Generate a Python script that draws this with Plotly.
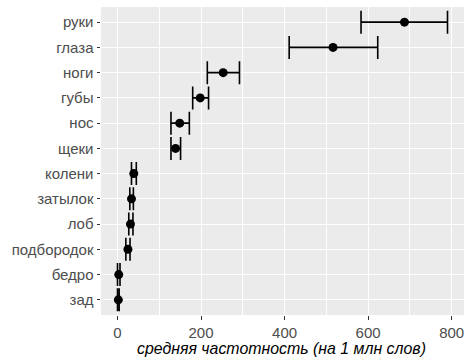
import plotly.graph_objects as go

categories = ["руки", "глаза", "ноги", "губы", "нос", "щеки", "колени",
              "затылок", "лоб", "подбородок", "бедро", "зад"]
mean_freq = [687, 516, 253, 198, 149, 139, 39, 33.5, 31, 25, 3, 2]
ci_low = [583, 411, 215, 180, 128, 128, 33.5, 29.5, 27, 20, 0, 0]
ci_high = [790, 623, 292, 218, 172, 151, 45, 38, 37, 30, 6, 4]
x_ticks = [0, 200, 400, 600, 800]
x_title = "средняя частотность (на 1 млн слов)"

err_plus = [h - m for h, m in zip(ci_high, mean_freq)]
err_minus = [m - l for m, l in zip(mean_freq, ci_low)]

fig = go.Figure()
fig.add_trace(go.Scatter(
    x=mean_freq, y=categories, mode="markers",
    marker=dict(color="black", size=9),
    error_x=dict(type="data", array=err_plus, arrayminus=err_minus,
                 color="black", thickness=1.6, width=11.5),
    showlegend=False, cliponaxis=False,
))

fig.update_layout(
    width=464, height=360,
    margin=dict(l=101, r=0, t=7, b=45),
    paper_bgcolor="white", plot_bgcolor="#EBEBEB",
    font=dict(family="Liberation Sans, Arial, sans-serif", color="#4D4D4D", size=15),
    xaxis=dict(
        range=[-39.5, 829.5], tickvals=x_ticks, ticktext=[str(t) for t in x_ticks],
        showgrid=True, gridcolor="white", gridwidth=1.1, zeroline=False,
        ticks="outside", ticklen=3.5, tickcolor="#333333", tickwidth=1.1,
        minor=dict(tickvals=[100, 300, 500, 700], showgrid=True,
                   gridcolor="white", gridwidth=0.55, ticks=""),
        showline=False, fixedrange=True, automargin=False,
        ticklabeloverflow="allow",
    ),
    yaxis=dict(
        type="category", categoryorder="array",
        categoryarray=categories[::-1], range=[-0.6, 11.6],
        showgrid=True, gridcolor="white", gridwidth=1.1, zeroline=False,
        ticks="outside", ticklen=3.5, tickcolor="#333333", tickwidth=1.1,
        showline=False, fixedrange=True, automargin=False,
        ticklabeloverflow="allow",
    ),
    annotations=[dict(
        text="<i>" + x_title + "</i>", xref="paper", yref="paper",
        x=(281 - 101) / 363, y=0, xanchor="center", yanchor="middle",
        yshift=-33, showarrow=False, font=dict(size=15.9, color="black"),
    )],
)

fig.write_html("out.html", config={"displayModeBar": False},
               post_script="document.body.style.margin='0';document.body.style.overflow='hidden';")
